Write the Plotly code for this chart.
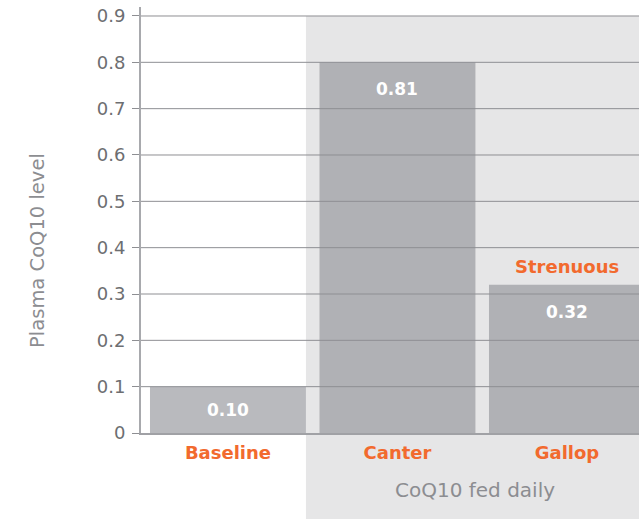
import plotly.graph_objects as go

categories = ["Baseline", "Canter", "Gallop"]
values = [0.10, 0.80, 0.32]
value_labels = ["0.10", "0.81", "0.32"]
bar_colors = ["#b9babe", "#b0b1b5", "#b0b1b5"]
tick_vals = [0, 0.1, 0.2, 0.3, 0.4, 0.5, 0.6, 0.7, 0.8, 0.9]
tick_text = ["0", "0.1", "0.2", "0.3", "0.4", "0.5", "0.6", "0.7", "0.8", "0.9"]
group_label = "CoQ10 fed daily"
note_label = "Strenuous"
y_title = "Plasma CoQ10 level"

FONT = "DejaVu Sans"
ORANGE = "#f26a2e"
GRAY_TXT = "#6d6e71"
GRID = "#8e8f93"

y_max = 0.9194
x_range = [-0.513, 2.425]
bar_width = 0.92
gap = 1 - bar_width

fig = go.Figure()
fig.add_trace(go.Bar(
    x=list(range(len(categories))), y=values,
    marker=dict(color=bar_colors, line=dict(width=0)),
    width=bar_width, hoverinfo="skip",
))

shade_x0 = bar_width / 2            # right edge of the Baseline bar
shade_x1 = 2 + bar_width / 2 + gap / 2

shapes = []
shapes.append(dict(type="rect", xref="x", yref="paper",
                   x0=shade_x0, x1=shade_x1,
                   y0=-0.25, y1=tick_vals[-1] / y_max,
                   fillcolor="#e6e6e7", line=dict(width=0), layer="below"))
for v in tick_vals[1:]:
    shapes.append(dict(type="line", xref="x domain", yref="y", x0=0, x1=1, y0=v, y1=v,
                       line=dict(color=GRID, width=1), layer="above"))

annotations = []
for i, (v, t) in enumerate(zip(values, value_labels)):
    if v < 0.15:
        annotations.append(dict(x=i, y=v / 2, xref="x", yref="y", text="<b>" + t + "</b>",
                                showarrow=False, yanchor="middle", yshift=0,
                                font=dict(family=FONT, size=17, color="white")))
    else:
        annotations.append(dict(x=i, y=v, xref="x", yref="y", text="<b>" + t + "</b>",
                                showarrow=False, yanchor="top", yshift=-15,
                                font=dict(family=FONT, size=17, color="white")))
annotations.append(dict(x=2, y=values[2], xref="x", yref="y", text="<b>" + note_label + "</b>",
                        showarrow=False, yanchor="bottom", yshift=6,
                        font=dict(family=FONT, size=18, color=ORANGE)))
annotations.append(dict(x=(shade_x0 + 2 + bar_width / 2) / 2, y=0,
                        xref="x", yref="y", text=group_label, showarrow=False,
                        yanchor="middle", yshift=-57,
                        font=dict(family=FONT, size=20, color="#8c8d91")))
annotations.append(dict(x=0, y=0.393, xref="paper", yref="y", text=y_title, showarrow=False,
                        textangle=-90, xanchor="center", yanchor="middle", xshift=-103,
                        font=dict(family=FONT, size=19.5, color="#8c8d91")))

fig.update_layout(
    width=639, height=519,
    margin=dict(l=141, r=0, t=7, b=86),
    paper_bgcolor="white", plot_bgcolor="rgba(0,0,0,0)",
    showlegend=False, bargap=gap,
    shapes=shapes, annotations=annotations,
    xaxis=dict(range=x_range, tickvals=list(range(len(categories))), ticktext=["<b>" + c + "</b>" for c in categories],
               showgrid=False, zeroline=False, showline=True, linecolor="#a0a1a5", linewidth=1.5,
               ticks="", ticklabelstandoff=3,
               tickfont=dict(family=FONT, size=18, color=ORANGE)),
    yaxis=dict(range=[0, y_max], tickvals=tick_vals, ticktext=tick_text,
               showgrid=False, zeroline=False, showline=True, linecolor="#a8a9ad", linewidth=2,
               ticks="outside", ticklen=7, tickwidth=1, tickcolor=GRID, ticklabelstandoff=3,
               tickfont=dict(family=FONT, size=18, color=GRAY_TXT)),
)

fig.write_html("out.html", config={"displayModeBar": False},
               post_script="document.body.style.margin='0px';")
